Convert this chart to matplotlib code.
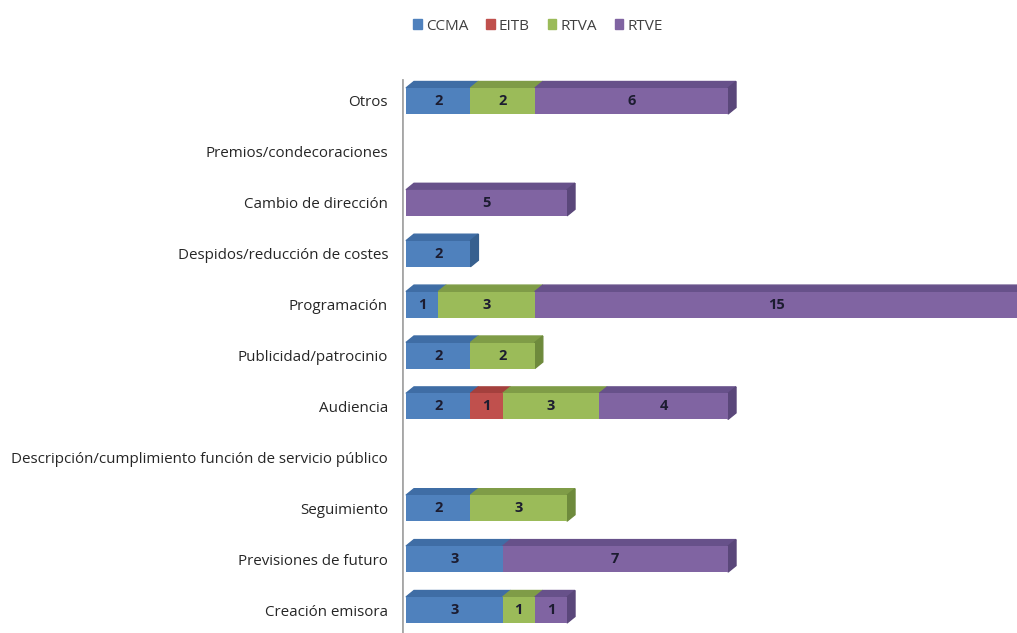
import numpy as np
import matplotlib.pyplot as plt
from matplotlib.patches import Polygon, Patch

# Categories, top to bottom
categories = ["Otros", "Premios/condecoraciones", "Cambio de dirección",
              "Despidos/reducción de costes", "Programación", "Publicidad/patrocinio",
              "Audiencia", "Descripción/cumplimiento función de servicio público",
              "Seguimiento", "Previsiones de futuro", "Creación emisora"]
series = ["CCMA", "EITB", "RTVA", "RTVE"]
ccma = [2, 0, 0, 2, 1, 2, 2, 0, 2, 3, 3]
eitb = [0, 0, 0, 0, 0, 0, 1, 0, 0, 0, 0]
rtva = [2, 0, 0, 0, 3, 2, 3, 0, 3, 0, 1]
rtve = [6, 0, 5, 0, 15, 0, 4, 0, 0, 7, 1]

front = ["#4F81BD", "#C0504D", "#9BBB59", "#8064A2"]
top = ["#3F6DA5", "#A4403D", "#7F9C47", "#67518A"]
side = ["#37608F", "#8E3734", "#6E8A3C", "#5A477A"]

W, H = 1017, 633
fig = plt.figure(figsize=(W / 100, H / 100), dpi=100)
plt.rcParams['font.family'] = ['Open Sans', 'DejaVu Sans']

# pixel geometry
px_unit = 32.2          # pixels per unit on x
row_px = 50.9           # pixels between categories
x0_px = 402             # axis line
ax = fig.add_axes([x0_px / W, 0, 1 - x0_px / W, 1])
xmin = -(406 - x0_px) / px_unit
ax.set_xlim(xmin, xmin + (W - x0_px) / px_unit)
n = len(categories)
ytop = n - 1 + 101 / row_px
ax.set_ylim(ytop - H / row_px, ytop)

ypos = np.arange(n)[::-1]
bar_h = 26 / row_px
dx = 8 / px_unit
dy = 6.5 / row_px

data = np.array([ccma, eitb, rtva, rtve])
left = np.zeros(n)
for s in range(len(series)):
    vals = data[s]
    ax.barh(ypos, vals, left=left, height=bar_h, color=front[s], zorder=3)
    for i in range(n):
        v = vals[i]
        if v == 0:
            continue
        l, r = left[i], left[i] + v
        t = ypos[i] + bar_h / 2
        b = ypos[i] - bar_h / 2
        ax.add_patch(Polygon([(l, t), (l + dx, t + dy), (r + dx, t + dy), (r, t)],
                             closed=True, color=top[s], zorder=2, clip_on=False))
        # side face only on the last segment of the row
        if data[s + 1:, i].sum() == 0:
            ax.add_patch(Polygon([(r, b), (r + dx, b + dy), (r + dx, t + dy), (r, t)],
                                 closed=True, color=side[s], zorder=2, clip_on=False))
        ax.text((l + r) / 2, ypos[i], str(v), ha='center', va='center',
                fontsize=10.5, fontweight='bold', color='#1C1C30', zorder=4)
    left = left + vals

# vertical category axis
ax.plot([xmin, xmin], [ytop - 633 / row_px, ytop - 80 / row_px],
        color='#A6A6A6', lw=2, zorder=1)

ax.set_yticks(ypos)
ax.set_yticklabels(categories, fontsize=10.9, color='#262626')
ax.tick_params(axis='y', length=0, pad=10)
ax.set_xticks([])
for sp in ax.spines.values():
    sp.set_visible(False)

handles = [Patch(color=c, label=l) for c, l in zip(front, series)]
fig.legend(handles=handles, loc='center', bbox_to_anchor=(538 / W, 1 - 26 / H), ncol=4,
           frameon=False, fontsize=11, handlelength=0.55, handleheight=0.55,
           handletextpad=0.25, columnspacing=1.2, labelcolor='#404040')

fig.savefig("out.png", dpi=100)
